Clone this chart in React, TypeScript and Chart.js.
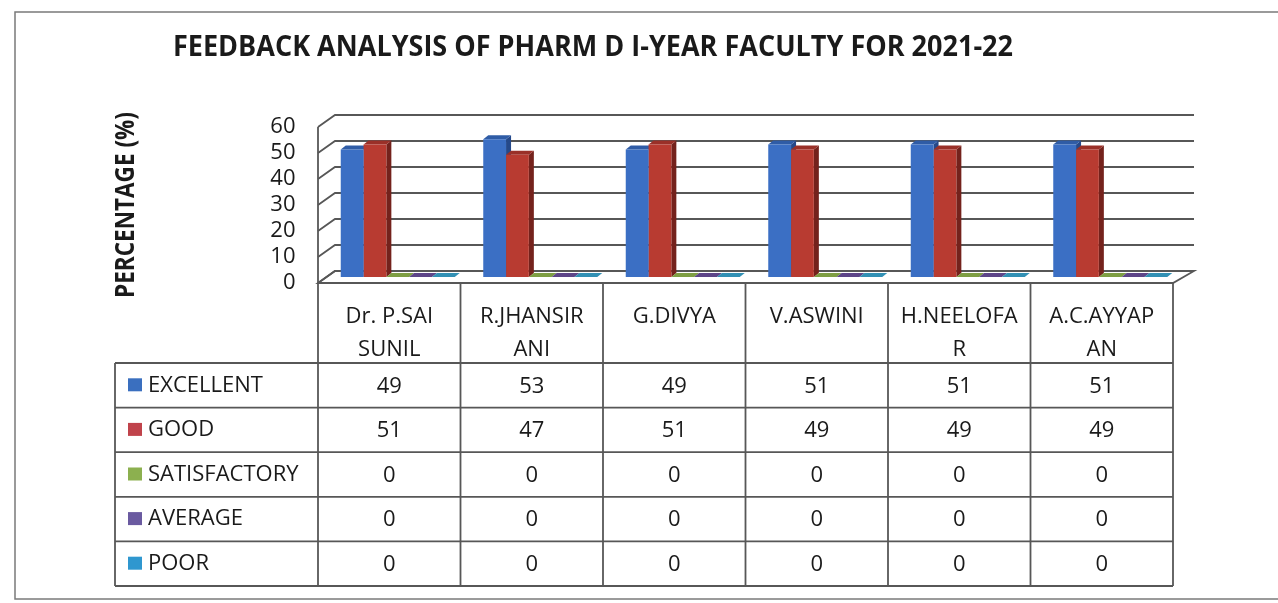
import React, { useEffect, useRef } from 'react';
import { Chart, registerables } from 'chart.js';

Chart.register(...registerables);

// ---------- data ----------
const TITLE = 'FEEDBACK ANALYSIS OF PHARM D I-YEAR FACULTY FOR 2021-22';
const Y_TITLE = 'PERCENTAGE (%)';
const categories: string[][] = [
  ['Dr. P.SAI', 'SUNIL'],
  ['R.JHANSIR', 'ANI'],
  ['G.DIVYA'],
  ['V.ASWINI'],
  ['H.NEELOFA', 'R'],
  ['A.C.AYYAP', 'AN'],
];
const seriesNames = ['EXCELLENT', 'GOOD', 'SATISFACTORY', 'AVERAGE', 'POOR'];
const excellent = [49, 53, 49, 51, 51, 51];
const good = [51, 47, 51, 49, 49, 49];
const satisfactory = [0, 0, 0, 0, 0, 0];
const average = [0, 0, 0, 0, 0, 0];
const poor = [0, 0, 0, 0, 0, 0];
const yTicks = [0, 10, 20, 30, 40, 50, 60];

const series = [excellent, good, satisfactory, average, poor];

// ---------- styles ----------
const COLORS = [
  { front: '#3b6fc4', top: '#2f5ca6', side: '#25498a', key: '#3a6fbf' },
  { front: '#b83b31', top: '#9a3028', side: '#74221c', key: '#c0434b' },
  { front: '#93b552', top: '#7e9e43', side: '#6a8636', key: '#8cb04f' },
  { front: '#6f54a0', top: '#5d4588', side: '#4a376d', key: '#6a5aa0' },
  { front: '#3da5cc', top: '#3290b4', side: '#287896', key: '#2f97cf' },
];
const GRID = '#575757';
const TEXT = '#1a1a1a';
const FONT = '"Open Sans", "DejaVu Sans", sans-serif';
const DX = 17; // wall depth x
const DY = 12; // wall depth y
const BX = 5; // bar depth x
const BY = 4; // bar depth y
const HEADER_H = 80;
const ROW_H = 44.6;
const LEGEND_LEFT = 115;

function fitText(ctx: CanvasRenderingContext2D, text: string, x: number, y: number, width: number) {
  const w = ctx.measureText(text).width;
  const s = width / w;
  ctx.save();
  ctx.translate(x, y);
  ctx.scale(s, 1);
  ctx.textAlign = 'center';
  ctx.fillText(text, 0, 0);
  ctx.restore();
}

const scenePlugin = {
  id: 'scene3d',
  beforeDatasetsDraw(chart: any) {
    const { ctx, chartArea: a, scales } = chart;
    const y = scales.y;
    const fl = a.left - DX / 2;
    const fr = a.right - DX / 2;
    const bl = a.left + DX / 2;
    const br = a.right + DX / 2 + 4;
    const y0 = y.getPixelForValue(0);
    ctx.save();
    ctx.strokeStyle = GRID;
    ctx.lineWidth = 1.8;
    // floor
    ctx.fillStyle = '#ffffff';
    ctx.beginPath();
    ctx.moveTo(fl, y0 + DY / 2);
    ctx.lineTo(fr, y0 + DY / 2);
    ctx.lineTo(br, y0 - DY / 2);
    ctx.lineTo(bl, y0 - DY / 2);
    ctx.closePath();
    ctx.fill();
    ctx.stroke();
    // side wall + back wall gridlines
    yTicks.forEach((v) => {
      const py = y.getPixelForValue(v);
      ctx.beginPath();
      ctx.moveTo(fl, py + DY / 2);
      ctx.lineTo(bl, py - DY / 2);
      ctx.lineTo(br, py - DY / 2);
      ctx.stroke();
    });
    ctx.beginPath();
    ctx.moveTo(fl, y.getPixelForValue(yTicks[yTicks.length - 1]) + DY / 2);
    ctx.lineTo(fl, y0 + DY / 2);
    ctx.stroke();
    // bar tops and sides
    chart.data.datasets.forEach((_ds: any, di: number) => {
      const meta = chart.getDatasetMeta(di);
      meta.data.forEach((bar: any) => {
        const p = bar.getProps(['x', 'y', 'base', 'width'], true);
        const l = p.x - p.width / 2;
        const r = p.x + p.width / 2;
        ctx.fillStyle = COLORS[di].side;
        ctx.beginPath();
        ctx.moveTo(r, p.y);
        ctx.lineTo(r + BX, p.y - BY);
        ctx.lineTo(r + BX, p.base - BY);
        ctx.lineTo(r, p.base);
        ctx.closePath();
        ctx.fill();
        ctx.fillStyle = COLORS[di].top;
        ctx.beginPath();
        ctx.moveTo(l, p.y);
        ctx.lineTo(l + BX, p.y - BY);
        ctx.lineTo(r + BX, p.y - BY);
        ctx.lineTo(r, p.y);
        ctx.closePath();
        ctx.fill();
      });
    });
    ctx.restore();
  },
  afterDraw(chart: any) {
    const { ctx, scales } = chart;
    const x = scales.x;
    const y = scales.y;
    const n = categories.length;
    const colW = x.width / n;
    const shift = -DX / 2;
    const tableTop = y.getPixelForValue(0) + DY / 2;
    const rowsTop = tableTop + HEADER_H;
    const tableBottom = rowsTop + ROW_H * seriesNames.length;
    const colLeft = (i: number) => x.getPixelForValue(i) - colW / 2 + shift;
    const colCenter = (i: number) => x.getPixelForValue(i) + shift;
    const tableRight = colLeft(n - 1) + colW;

    ctx.save();
    // outer frame
    ctx.strokeStyle = '#7a7a7a';
    ctx.lineWidth = 1.5;
    ctx.strokeRect(15, 12, 1300, 587);

    // title
    ctx.fillStyle = TEXT;
    ctx.font = `bold 28px ${FONT}`;
    ctx.textBaseline = 'alphabetic';
    fitText(ctx, TITLE, 593, 56, 840);

    // y title
    ctx.save();
    ctx.translate(134, 205);
    ctx.rotate(-Math.PI / 2);
    ctx.font = `bold 27px ${FONT}`;
    fitText(ctx, Y_TITLE, 0, 0, 186);
    ctx.restore();

    // table lines
    ctx.strokeStyle = GRID;
    ctx.lineWidth = 1.8;
    for (let i = 0; i <= n; i++) {
      const xb = i < n ? colLeft(i) : tableRight;
      ctx.beginPath();
      ctx.moveTo(xb, tableTop);
      ctx.lineTo(xb, tableBottom);
      ctx.stroke();
    }
    ctx.beginPath();
    ctx.moveTo(LEGEND_LEFT, rowsTop);
    ctx.lineTo(LEGEND_LEFT, tableBottom);
    ctx.stroke();
    for (let k = 0; k <= seriesNames.length; k++) {
      const yy = rowsTop + k * ROW_H;
      ctx.beginPath();
      ctx.moveTo(LEGEND_LEFT, yy);
      ctx.lineTo(tableRight, yy);
      ctx.stroke();
    }

    // header labels
    ctx.fillStyle = TEXT;
    ctx.font = `22px ${FONT}`;
    ctx.textAlign = 'center';
    ctx.textBaseline = 'middle';
    categories.forEach((lines, i) => {
      lines.forEach((t, j) => {
        ctx.fillText(t, colCenter(i), tableTop + 34 + j * 33);
      });
    });

    // rows
    seriesNames.forEach((name, si) => {
      const cy = rowsTop + si * ROW_H + ROW_H / 2;
      ctx.fillStyle = COLORS[si].key;
      ctx.fillRect(LEGEND_LEFT + 13, cy - 7, 14, 13);
      ctx.fillStyle = TEXT;
      ctx.textAlign = 'left';
      ctx.fillText(name, LEGEND_LEFT + 33, cy);
      ctx.textAlign = 'center';
      series[si].forEach((v, i) => {
        ctx.fillText(String(v), colCenter(i), cy + 1);
      });
    });
    ctx.restore();
  },
};

export default function App() {
  const ref = useRef<HTMLCanvasElement>(null);
  useEffect(() => {
    document.body.style.margin = '0';
    const canvas = ref.current;
    if (!canvas) return;
    const chart = new Chart(canvas, {
      type: 'bar',
      data: {
        labels: categories.map((c) => c.join('')),
        datasets: series.map((d, i) => ({
          label: seriesNames[i],
          data: d,
          backgroundColor: COLORS[i].front,
          borderWidth: 0,
          categoryPercentage: 0.8,
          barPercentage: 1,
        })),
      },
      options: {
        responsive: false,
        animation: false,
        devicePixelRatio: 1,
        layout: { padding: { left: 266.5, right: 96.5, top: 121, bottom: 326 } },
        plugins: {
          legend: { display: false },
          title: { display: false },
          tooltip: { enabled: false },
        },
        scales: {
          x: { display: false },
          y: {
            min: yTicks[0],
            max: yTicks[yTicks.length - 1],
            afterFit: (s: any) => {
              s.width = 60;
            },
            afterBuildTicks: (s: any) => {
              s.ticks = yTicks.map((v) => ({ value: v }));
            },
            grid: { display: false, drawTicks: false, tickLength: 0 },
            border: { display: false },
            ticks: {
              autoSkip: false,
              padding: 31,
              labelOffset: 6,
              color: TEXT,
              font: { family: FONT, size: 22, lineHeight: 1 },
            },
          },
        },
      } as any,
      plugins: [scenePlugin],
    });
    return () => chart.destroy();
  }, []);
  return (
    <div style={{ position: 'absolute', left: 0, top: 0, width: 1278, height: 603 }}>
      <canvas ref={ref} width={1278} height={603} style={{ display: 'block', width: 1278, height: 603 }} />
    </div>
  );
}
